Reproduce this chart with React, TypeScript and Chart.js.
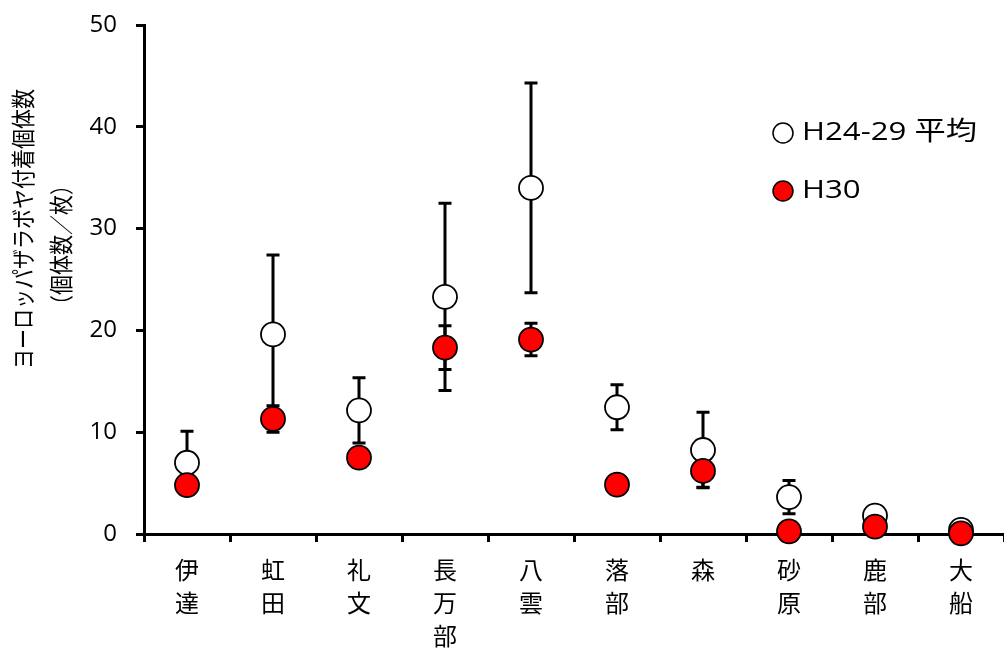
import React, { useEffect, useRef } from "react";
import { Chart, registerables } from "chart.js";

Chart.register(...registerables);

const categories: string[][] = [
  ["伊", "達"],
  ["虹", "田"],
  ["礼", "文"],
  ["長", "万", "部"],
  ["八", "雲"],
  ["落", "部"],
  ["森"],
  ["砂", "原"],
  ["鹿", "部"],
  ["大", "船"],
];

const avgLabel = "H24-29 平均";
const avgValues = [7.0, 19.6, 12.15, 23.3, 34.0, 12.45, 8.25, 3.63, 1.8, 0.4];
const avgErrors = [3.1, 7.8, 3.2, 9.2, 10.3, 2.2, 3.7, 1.63, 0.3, 0.2];

const h30Label = "H30";
const h30Values = [4.8, 11.3, 7.5, 18.3, 19.1, 4.85, 6.2, 0.26, 0.72, 0.07];
const h30Errors = [0.5, 1.3, 0.5, 2.15, 1.6, 0.4, 1.6, 0.2, 0.3, 0.05];

const yTicks = [0, 10, 20, 30, 40, 50];
const yTitleLines = ["ヨーロッパザラボヤ付着個体数", "（個体数／枚）"];

const LATIN = "'Open Sans', 'Noto Sans CJK JP', sans-serif";
const CJK = "'Noto Sans CJK JP', sans-serif";

const errorBarPlugin = {
  id: "errorBars",
  beforeDatasetsDraw(chart: any) {
    const ctx = chart.ctx;
    const yScale = chart.scales.y;
    ctx.save();
    ctx.strokeStyle = "#000";
    ctx.lineWidth = 3;
    chart.data.datasets.forEach((ds: any, di: number) => {
      const meta = chart.getDatasetMeta(di);
      const errs: number[] = ds.errors || [];
      meta.data.forEach((pt: any, i: number) => {
        const v = ds.data[i];
        const e = errs[i] || 0;
        if (!e) return;
        const x = pt.x;
        const yT = yScale.getPixelForValue(v + e);
        const yB = yScale.getPixelForValue(Math.max(0, v - e));
        ctx.beginPath();
        ctx.moveTo(x, yT);
        ctx.lineTo(x, yB);
        ctx.moveTo(x - 6.5, yT);
        ctx.lineTo(x + 6.5, yT);
        ctx.moveTo(x - 6.5, yB);
        ctx.lineTo(x + 6.5, yB);
        ctx.stroke();
      });
    });
    ctx.restore();
  },
};

const decorPlugin = {
  id: "decor",
  afterDraw(chart: any) {
    const ctx = chart.ctx;
    ctx.save();
    // y-axis title (two rotated lines)
    ctx.fillStyle = "#000";
    ctx.font = `20px ${CJK}`;
    ctx.textAlign = "center";
    ctx.textBaseline = "middle";
    const titlePos = [
      { x: 23, y: 229 },
      { x: 61, y: 245 },
    ];
    yTitleLines.forEach((t, i) => {
      ctx.save();
      ctx.translate(titlePos[i].x, titlePos[i].y);
      ctx.scale(1.2, 1);
      ctx.rotate(-Math.PI / 2);
      ctx.fillText(t, 0, 0);
      ctx.restore();
    });
    // legend
    const items = chart.data.datasets.map((ds: any) => ({
      label: ds.label,
      fill: ds.backgroundColor,
    }));
    const legendY = [133, 191];
    items.forEach((it: any, i: number) => {
      const cy = legendY[i];
      ctx.beginPath();
      ctx.arc(783, cy, 10, 0, Math.PI * 2);
      ctx.fillStyle = it.fill;
      ctx.fill();
      ctx.lineWidth = 1.5;
      ctx.strokeStyle = "#000";
      ctx.stroke();
      ctx.save();
      ctx.fillStyle = "#000";
      ctx.font = `26px ${LATIN}`;
      ctx.textAlign = "left";
      ctx.textBaseline = "middle";
      ctx.translate(802, cy);
      ctx.scale(1.2, 1);
      ctx.fillText(it.label, 0, 0);
      ctx.restore();
    });
    ctx.restore();
  },
};

export default function App() {
  const ref = useRef<HTMLCanvasElement | null>(null);
  useEffect(() => {
    document.body.style.margin = "0";
    if (!ref.current) return;
    const chart = new Chart(ref.current, {
      type: "line",
      data: {
        labels: categories as any,
        datasets: [
          {
            label: avgLabel,
            data: avgValues,
            errors: avgErrors,
            showLine: false,
            pointRadius: 12,
            pointHoverRadius: 12,
            pointBackgroundColor: "#ffffff",
            backgroundColor: "#ffffff",
            pointBorderColor: "#000000",
            borderColor: "#000000",
            pointBorderWidth: 1.8,
            clip: false,
            order: 1,
          } as any,
          {
            label: h30Label,
            data: h30Values,
            errors: h30Errors,
            showLine: false,
            pointRadius: 12,
            pointHoverRadius: 12,
            pointBackgroundColor: "#ff0000",
            backgroundColor: "#ff0000",
            pointBorderColor: "#000000",
            borderColor: "#000000",
            pointBorderWidth: 1.8,
            clip: false,
            order: 0,
          } as any,
        ],
      },
      options: {
        responsive: false,
        animation: false,
        devicePixelRatio: 1,
        layout: { autoPadding: false, padding: { top: 25, left: 0, right: 0, bottom: 0 } },
        plugins: {
          legend: { display: false },
          tooltip: { enabled: false },
        },
        scales: {
          x: {
            type: "category",
            offset: true,
            afterFit: (s: any) => {
              s.height = 116;
              s.paddingLeft = 0;
              s.paddingRight = 0;
            },
            grid: {
              offset: true,
              drawOnChartArea: false,
              drawTicks: true,
              tickLength: 8,
              lineWidth: 3,
              color: "#000",
            },
            border: { display: true, color: "#000", width: 3 },
            ticks: {
              color: "#000",
              padding: 11,
              autoSkip: false,
              maxRotation: 0,
              minRotation: 0,
              font: { family: CJK, size: 24, lineHeight: "33px" },
            },
          },
          y: {
            min: 0,
            max: 50,
            afterFit: (s: any) => {
              s.width = 144;
              s.paddingTop = 0;
              s.paddingBottom = 0;
            },
            afterBuildTicks: (s: any) => {
              s.ticks = yTicks.map((v) => ({ value: v }));
            },
            grid: {
              drawOnChartArea: false,
              drawTicks: true,
              tickLength: 8,
              lineWidth: 3,
              color: "#000",
            },
            border: { display: true, color: "#000", width: 3 },
            ticks: {
              color: "#000",
              padding: 19,
              font: { family: LATIN, size: 24 },
            },
          },
        },
      },
      plugins: [errorBarPlugin, decorPlugin],
    } as any);
    return () => chart.destroy();
  }, []);
  return (
    <div style={{ width: 1004, height: 650 }}>
      <canvas ref={ref} width={1004} height={650} />
    </div>
  );
}
